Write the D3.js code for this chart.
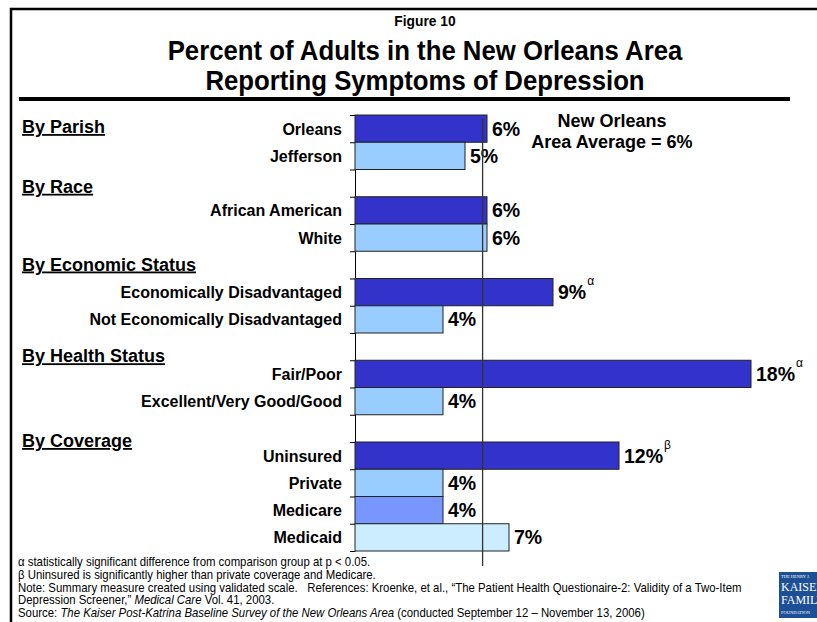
<!DOCTYPE html>
<html>
<head>
<meta charset="utf-8">
<script src="https://cdn.jsdelivr.net/npm/d3@7"></script>
<style>
  body { margin: 0; background: #fff; }
  svg { display: block; font-family: "Liberation Sans", Arial, sans-serif; }
</style>
</head>
<body>
<div id="chart"></div>
<script>
// row keys (gap rows separate the groups)
const rowKeys = ["Orleans", "Jefferson", "gap1", "African American", "White", "gap2",
  "Economically Disadvantaged", "Not Economically Disadvantaged", "gap3",
  "Fair/Poor", "Excellent/Very Good/Good", "gap4",
  "Uninsured", "Private", "Medicare", "Medicaid"];
const categories = ["Orleans", "Jefferson", "African American", "White",
  "Economically Disadvantaged", "Not Economically Disadvantaged",
  "Fair/Poor", "Excellent/Very Good/Good",
  "Uninsured", "Private", "Medicare", "Medicaid"];
const values = [6, 5, 6, 6, 9, 4, 18, 4, 12, 4, 4, 7];
const valueLabels = ["6%", "5%", "6%", "6%", "9%", "4%", "18%", "4%", "12%", "4%", "4%", "7%"];
const marks = ["", "", "", "", "α", "", "α", "", "β", "", "", ""];
const barColors = ["#3333CC", "#99CCFF", "#3333CC", "#99CCFF", "#3333CC", "#99CCFF",
  "#3333CC", "#99CCFF", "#3333CC", "#99CCFF", "#7797FF", "#CCECFF"];
const groupHeaders = ["By Parish", "By Race", "By Economic Status", "By Health Status", "By Coverage"];
const groupFirstRow = ["Orleans", "African American", "Economically Disadvantaged", "Fair/Poor", "Uninsured"];
const averageValue = 5.8;
const averageLabel = ["New Orleans", "Area Average = 6%"];
const footnotes = [
  [{t: "α statistically significant difference from comparison group at p < 0.05."}],
  [{t: "β Uninsured is significantly higher than private coverage and Medicare."}],
  [{t: "Note: Summary measure created using validated scale.   References: Kroenke, et al., “The Patient Health Questionaire-2: Validity of a Two-Item"}],
  [{t: "Depression Screener,” "}, {t: "Medical Care", i: true}, {t: " Vol. 41, 2003."}],
  [{t: "Source: "}, {t: "The Kaiser Post-Katrina Baseline Survey of the New Orleans Area", i: true}, {t: " (conducted September 12 – November 13, 2006)"}]
];

const W = 817, H = 622;
const svg = d3.select("#chart").append("svg").attr("width", W).attr("height", H);
svg.append("rect").attr("width", W).attr("height", H).attr("fill", "#fff");

// slide frame
svg.append("path").attr("d", `M11,${H} V9 H${W}`)
  .attr("fill", "none").attr("stroke", "#000").attr("stroke-width", 2.5);

// titles (slightly condensed like the original)
const titles = svg.append("g").attr("transform", "translate(425,0) scale(0.92,1)");
titles.append("text").attr("x", 0).attr("y", 26).attr("text-anchor", "middle")
  .attr("font-size", 15).attr("font-weight", "bold").text("Figure 10");
titles.append("text").attr("x", 0).attr("y", 60).attr("text-anchor", "middle")
  .attr("font-size", 28).attr("font-weight", "bold").text("Percent of Adults in the New Orleans Area");
titles.append("text").attr("x", 0).attr("y", 90).attr("text-anchor", "middle")
  .attr("font-size", 28).attr("font-weight", "bold").text("Reporting Symptoms of Depression");
svg.append("line").attr("x1", 19).attr("x2", 790).attr("y1", 99).attr("y2", 99)
  .attr("stroke", "#000").attr("stroke-width", 4);

// scales
const x = d3.scaleLinear().domain([0, 18]).range([355, 751]);
const y = d3.scaleBand().domain(rowKeys).range([115, 551]).padding(0);
const yIdx = d3.scaleLinear().domain([0, rowKeys.length]).range([115, 551]);

// axis with ticks at row boundaries
svg.append("g").attr("transform", `translate(${x(0)},0)`)
  .call(d3.axisLeft(yIdx).tickValues(d3.range(rowKeys.length + 1))
    .tickSize(5).tickSizeOuter(0).tickFormat(""))
  .call(g => g.selectAll("path, line").attr("stroke", "#000"));

// bars
svg.append("g").selectAll("rect").data(categories).join("rect")
  .attr("x", x(0))
  .attr("y", d => y(d))
  .attr("width", (d, i) => x(values[i]) - x(0))
  .attr("height", y.bandwidth())
  .attr("fill", (d, i) => barColors[i])
  .attr("stroke", "#222").attr("stroke-width", 1);

// category labels
svg.append("g").selectAll("text").data(categories).join("text")
  .attr("x", 342)
  .attr("y", d => y(d) + y.bandwidth() / 2 + 6)
  .attr("text-anchor", "end").attr("font-size", 16).attr("font-weight", "bold")
  .text(d => d);

// value labels
const vl = svg.append("g").selectAll("text").data(categories).join("text")
  .attr("x", (d, i) => x(values[i]) + 5)
  .attr("y", d => y(d) + y.bandwidth() / 2 + 7)
  .attr("font-size", 19.5).attr("font-weight", "bold");
vl.append("tspan").text((d, i) => valueLabels[i]);
vl.filter((d, i) => marks[i]).append("tspan")
  .attr("dx", 1).attr("dy", -14).attr("font-size", 12).attr("font-weight", "normal")
  .text(d => marks[categories.indexOf(d)]);

// group headers
const headerNudge = [18, -4, -8, 2, 5];
svg.append("g").selectAll("text").data(groupHeaders).join("text")
  .attr("x", 22)
  .attr("y", (d, i) => y(groupFirstRow[i]) + headerNudge[i])
  .attr("font-size", 18).attr("font-weight", "bold")
  .attr("text-decoration", "underline")
  .text(d => d);

// average line
svg.append("line").attr("x1", x(averageValue)).attr("x2", x(averageValue))
  .attr("y1", 118).attr("y2", 566).attr("stroke", "#333").attr("stroke-width", 1.3);
svg.append("g").selectAll("text").data(averageLabel).join("text")
  .attr("x", 612).attr("y", (d, i) => 127 + i * 21)
  .attr("text-anchor", "middle").attr("font-size", 18).attr("font-weight", "bold")
  .text(d => d);

// footnotes
const fn = svg.append("g").attr("transform", "translate(18,0) scale(0.95,1)")
  .selectAll("text").data(footnotes).join("text")
  .attr("x", 0).attr("y", (d, i) => 566 + i * 12.8)
  .attr("font-size", 12).attr("fill", "#000");
fn.selectAll("tspan").data(d => d).join("tspan")
  .attr("font-style", d => d.i ? "italic" : "normal")
  .attr("xml:space", "preserve")
  .text(d => d.t);

// logo
const logo = svg.append("g");
logo.append("rect").attr("x", 779).attr("y", 572).attr("width", 40).attr("height", 46).attr("fill", "#1d4f96");
const logoText = [["THE HENRY J.", 4.5, 578], ["KAISER", 12, 591], ["FAMILY", 12, 604], ["FOUNDATION", 4.5, 614]];
logo.selectAll("text").data(logoText).join("text")
  .attr("x", 781).attr("y", d => d[2]).attr("font-size", d => d[1])
  .attr("font-family", "Liberation Serif, serif").attr("fill", "#fff")
  .text(d => d[0]);
</script>
</body>
</html>
